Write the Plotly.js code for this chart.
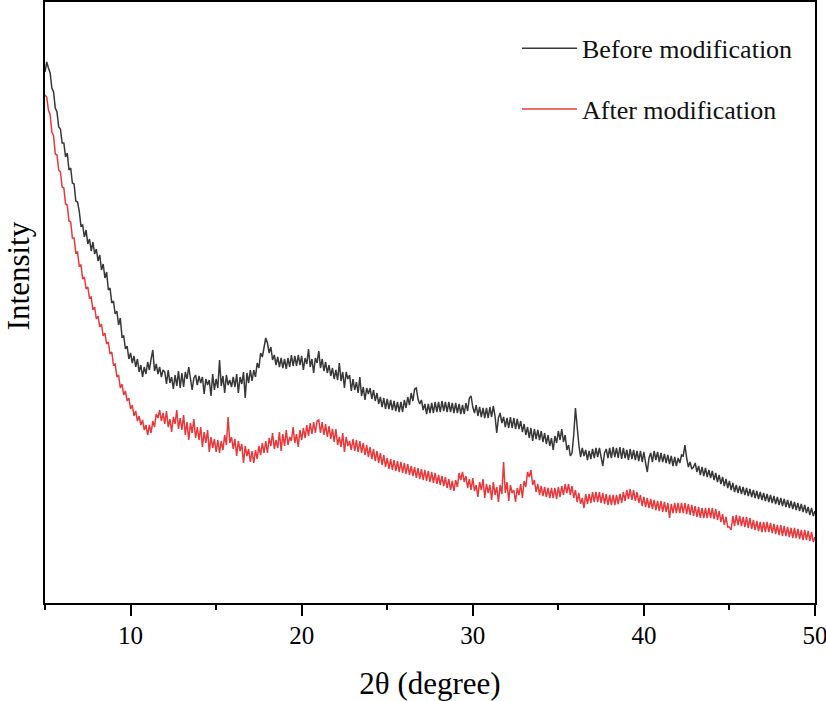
<!DOCTYPE html>
<html>
<head>
<meta charset="utf-8">
<script src="https://cdn.plot.ly/plotly-3.0.1.min.js"></script>
<style>html,body{margin:0;padding:0;background:#fff;}#chart{width:826px;height:701px;}</style>
</head>
<body>
<div id="chart"></div>
<script>
// Scan grid: 2θ from 5° in steps of 0.1° (one row below = one degree, 5.0 … 5.9 etc.)
const thetaStart = 5;
const thetaStep = 0.1;

// Intensity (a.u.)
const beforeIntensity = [
  531,541,535,530,515,511,495,491,476,474,
  460,460,446,450,433,435,420,419,402,401,
  392,377,378,366,373,359,364,352,361,349,
  354,342,348,333,339,325,331,313,315,300,
  302,289,292,278,285,266,267,254,257,244,
  250,240,247,236,244,231,238,226,236,229,
  241,233,244,253,232,239,229,236,226,233,
  231,219,233,220,226,214,228,217,232,215,
  230,216,231,224,236,222,213,225,228,218,
  227,220,226,209,224,218,223,207,229,213,
  224,215,243,217,227,210,228,218,223,216,
  226,216,229,210,226,219,231,205,230,220,
  233,222,233,226,240,235,250,246,258,265,
  260,250,256,243,248,238,246,236,245,235,
  244,234,245,236,248,237,247,237,248,238,
  247,233,245,239,254,236,244,230,245,240,
  252,235,244,232,241,230,238,227,235,224,
  233,223,240,222,231,215,231,224,228,212,
  224,213,221,210,226,207,216,203,215,209,
  215,204,213,202,210,199,206,196,205,194,
  204,194,203,193,202,192,201,191,201,191,
  203,195,206,198,210,202,214,215,204,199,
  203,193,199,189,199,190,200,190,201,191,
  201,191,202,192,201,191,201,191,200,190,
  200,190,199,189,198,189,200,192,205,207,
  196,190,198,187,196,186,195,185,195,185,
  196,186,197,187,170,185,190,180,186,176,
  185,175,186,175,185,174,184,174,182,171,
  179,168,176,165,175,162,174,164,173,163,
  172,161,170,159,168,157,165,153,167,160,
  172,163,174,161,168,153,158,147,150,168,
  195,174,158,146,155,147,153,143,152,144,
  154,145,155,146,155,146,137,150,154,145,
  155,145,156,146,155,145,156,144,155,145,
  153,143,154,144,153,143,152,142,152,141,
  151,140,131,145,150,141,152,143,151,141,
  150,141,149,140,148,139,147,137,146,137,
  145,140,148,147,158,145,136,141,134,136,
  140,131,137,128,136,127,135,126,133,125,
  132,123,130,121,128,119,126,117,124,115,
  122,113,120,111,118,110,117,109,116,108,
  115,107,114,106,113,105,112,104,111,103,
  110,102,109,101,108,100,107,99,106,98,
  105,97,104,96,103,95,102,94,101,93,
  100,92,99,91,98,90,96,88,95,87,
  92
];
const afterIntensity = [
  508,506,493,488,471,467,449,448,433,431,
  416,415,399,398,382,381,365,365,350,351,
  337,338,324,326,314,316,305,306,293,296,
  284,287,276,279,267,270,259,261,249,251,
  238,239,226,228,215,219,208,212,202,205,
  194,198,187,192,182,187,178,183,173,178,
  168,178,170,182,176,189,185,193,182,190,
  179,192,176,184,171,186,179,193,174,185,
  173,188,168,181,163,180,170,184,165,176,
  163,176,156,171,160,173,151,166,155,164,
  151,163,150,162,153,168,158,186,160,166,
  154,164,147,162,152,159,140,157,147,154,
  141,152,140,153,144,157,148,160,150,162,
  150,165,157,170,154,163,155,171,152,169,
  157,173,158,166,162,176,160,169,156,173,
  163,175,165,178,167,180,169,181,170,182,
  183,170,181,168,179,166,177,164,174,161,
  174,158,166,156,170,151,166,157,162,153,
  164,152,163,151,162,150,160,148,158,146,
  156,144,154,142,152,140,150,138,148,136,
  145,134,144,133,143,132,142,131,141,130,
  140,129,139,128,137,127,136,125,135,124,
  134,123,133,122,132,121,131,120,130,119,
  128,118,127,117,126,115,124,113,122,112,
  123,116,130,123,131,121,127,115,124,113,
  125,112,118,106,121,113,124,105,119,110,
  118,103,121,108,116,101,118,109,141,110,
  121,102,118,110,113,101,115,108,119,105,
  122,116,131,126,133,118,123,111,119,108,
  117,107,116,106,115,105,115,105,115,104,
  116,106,117,108,119,110,119,108,117,105,
  113,101,110,99,105,95,109,99,109,100,
  111,101,111,101,111,100,110,99,109,98,
  108,98,108,98,108,99,109,100,111,102,
  113,104,114,103,113,102,111,100,108,97,
  106,96,105,95,104,94,103,93,102,92,
  102,91,101,91,100,85,99,90,100,90,
  100,90,100,90,100,89,99,88,98,87,
  97,86,96,85,95,85,95,85,95,85,
  95,84,94,83,92,81,89,78,86,76,
  76,73,87,77,88,78,87,77,86,76,
  86,75,85,74,83,73,82,72,81,71,
  81,71,81,71,80,70,79,69,78,68,
  78,67,77,67,76,66,75,65,75,65,
  74,64,73,63,73,63,72,62,71,61,
  66
];
const seriesNames = ['Before modification', 'After modification'];
const xTickValues = [10, 20, 30, 40, 50];
const xMinorTickValues = [5, 15, 25, 35, 45];

const serif = 'Liberation Serif, Times New Roman, serif';

const traces = [
  {x0: thetaStart, dx: thetaStep, y: beforeIntensity, name: seriesNames[0], type: 'scatter', mode: 'lines',
   line: {color: '#383838', width: 1.5}, legendgroup: 'a'},
  {x0: thetaStart, dx: thetaStep, y: afterIntensity, name: seriesNames[1], type: 'scatter', mode: 'lines',
   line: {color: '#e8383b', width: 1.5}, legendgroup: 'b'}
];

const layout = {
  width: 826, height: 701,
  margin: {l: 45, r: 11, t: 2, b: 98, pad: 0},
  paper_bgcolor: '#ffffff', plot_bgcolor: '#ffffff',
  font: {family: serif, color: '#000'},
  showlegend: true,
  legend: {x: 0.613, y: 0.962, xanchor: 'left', yanchor: 'top', bgcolor: 'rgba(0,0,0,0)',
           font: {family: serif, size: 26, color: '#111'}, traceorder: 'grouped', tracegroupgap: 24,
           itemwidth: 55},
  xaxis: {
    range: [4.999, 50.001], tickmode: 'array', tickvals: xTickValues,
    ticks: 'outside', ticklen: 11, tickwidth: 2, tickcolor: '#000',
    minor: {tickmode: 'array', tickvals: xMinorTickValues, ticks: 'outside', ticklen: 5, tickwidth: 2, tickcolor: '#000'},
    showline: true, linewidth: 2, linecolor: '#000', mirror: true,
    showgrid: false, zeroline: false,
    tickfont: {family: serif, size: 25, color: '#000'},
    ticklabelstandoff: -2,
    ticklabeloverflow: 'allow',
    title: {text: '2θ (degree)', font: {family: serif, size: 31, color: '#000'}, standoff: 24}
  },
  yaxis: {
    range: [0, 601], showticklabels: false, ticks: '',
    showline: true, linewidth: 2, linecolor: '#000', mirror: true,
    showgrid: false, zeroline: false
  },
  annotations: [{
    text: 'Intensity', xref: 'paper', yref: 'paper',
    x: -0.034, y: 0.545, xanchor: 'center', yanchor: 'middle',
    textangle: -90, showarrow: false,
    font: {family: serif, size: 31, color: '#000'}
  }]
};

Plotly.newPlot('chart', traces, layout, {displayModeBar: false, staticPlot: true});
</script>
</body>
</html>
